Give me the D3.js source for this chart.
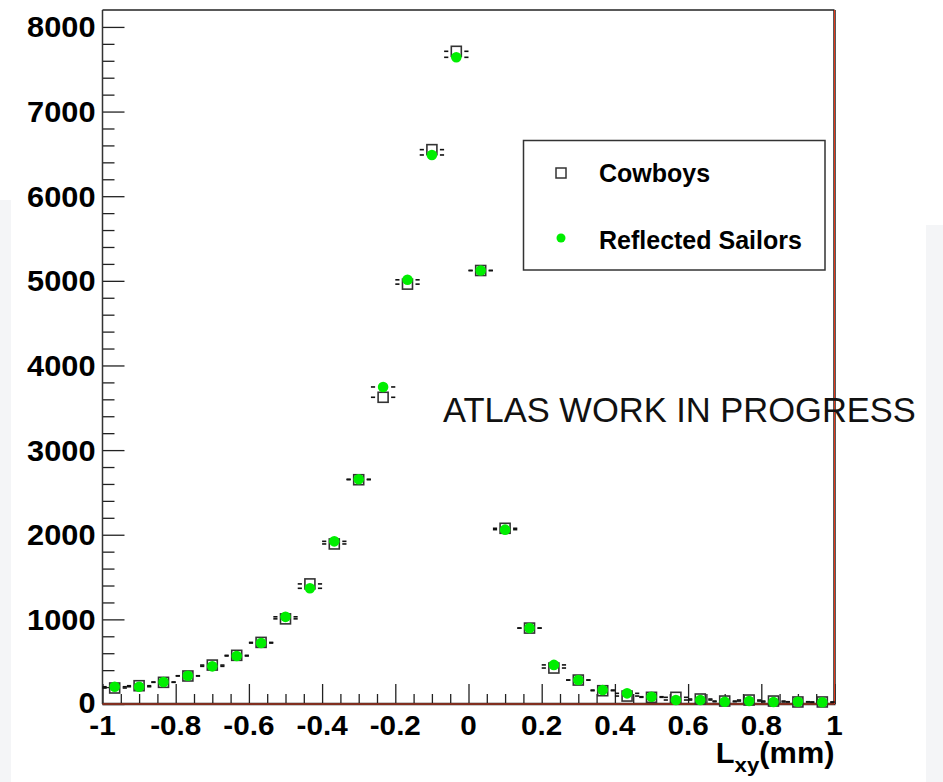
<!DOCTYPE html>
<html>
<head>
<meta charset="utf-8">
<script src="https://cdn.jsdelivr.net/npm/d3@7"></script>
<style>
  html, body { margin: 0; padding: 0; background: #fff; }
  svg { display: block; }
  text { font-family: "Liberation Sans", Arial, Helvetica, sans-serif; }
</style>
</head>
<body>
<div id="chart"></div>
<script>
"use strict";

// bin centres of L_xy (mm), 30 bins over [-1, 1]
const lxyBins = [
   -0.9667, -0.9, -0.8333, -0.7667, -0.7, -0.6333, -0.5667, -0.5, -0.4333, -0.3667,
   -0.3, -0.2333, -0.1667, -0.1, -0.0333, 0.0333, 0.1, 0.1667, 0.2333, 0.3,
   0.3667, 0.4333, 0.5, 0.5667, 0.6333, 0.7, 0.7667, 0.8333, 0.9, 0.9667
];
const binHalfWidth = 0.0333;

const cowboys = [
   189, 216, 256, 331, 460, 575, 728, 1006, 1419, 1891,
   2650, 3624, 4961, 6550, 7712, 5122, 2076, 897, 425, 283,
   157, 94, 79, 79, 59, 35, 47, 35, 24, 24
];
const sailors = [
   204, 204, 260, 334, 445, 567, 720, 1030, 1367, 1922,
   2656, 3746, 5012, 6487, 7641, 5122, 2060, 897, 462, 283,
   165, 126, 86, 47, 47, 27, 35, 24, 27, 20
];

const xTicks = [-1, -0.8, -0.6, -0.4, -0.2, 0, 0.2, 0.4, 0.6, 0.8, 1];
const yTicks = [0, 1000, 2000, 3000, 4000, 5000, 6000, 7000, 8000];
const legendLabels = ["Cowboys", "Reflected Sailors"];

(function () {
   const width = 943, height = 782;
   const pLeft = 102.5, pRight = 834.5, pTop = 10, pBottom = 704;
   const stretch = 1.06; // the original lettering is a little wider than it is tall

   const svg = d3.select("#chart").append("svg")
      .attr("width", width)
      .attr("height", height);

   // faint background bands at the page edges
   svg.append("rect").attr("x", 0).attr("y", 200).attr("width", 11).attr("height", 582).attr("fill", "#f4f5f7");
   svg.append("rect").attr("x", 926).attr("y", 225).attr("width", 17).attr("height", 557).attr("fill", "#f4f5f7");

   const x = d3.scaleLinear().domain([-1, 1]).range([pLeft, pRight]);
   const y = d3.scaleLinear().domain([0, 8200]).range([pBottom, pTop]);

   // y axis: majors every 1000, minors every 200
   const yAxis = d3.axisRight(y)
      .tickValues(d3.range(0, 8001, 200))
      .tickSize(12)
      .tickFormat("");
   svg.append("g")
      .attr("transform", `translate(${pLeft},0)`)
      .call(yAxis)
      .call(g => g.select(".domain").remove())
      .call(g => g.selectAll("line")
         .attr("stroke", "#222")
         .attr("stroke-width", 1.3)
         .attr("x2", d => d % 1000 === 0 ? 22 : 12));

   svg.append("g")
      .selectAll("text")
      .data(yTicks)
      .join("text")
      .attr("transform", d => `translate(${pLeft - 7},${y(d)}) scale(${stretch},1)`)
      .attr("dy", d => d === 0 ? "0.3em" : "0.36em")
      .attr("text-anchor", "end")
      .attr("font-size", 29)
      .attr("font-weight", "bold")
      .text(d => d);

   // x axis: majors every 0.2, minors every 0.05
   const xAxis = d3.axisTop(x)
      .tickValues(d3.range(-1, 1.0001, 0.05))
      .tickSize(10)
      .tickFormat("");
   svg.append("g")
      .attr("transform", `translate(0,${pBottom})`)
      .call(xAxis)
      .call(g => g.select(".domain").remove())
      .call(g => g.selectAll("line")
         .attr("stroke", "#222")
         .attr("stroke-width", 1.3)
         .attr("y2", (d, i) => i % 4 === 0 ? -20 : -10));

   svg.append("g")
      .selectAll("text")
      .data(xTicks)
      .join("text")
      .attr("transform", d => `translate(${x(d)},735) scale(${stretch},1)`)
      .attr("text-anchor", "middle")
      .attr("font-size", 28)
      .attr("font-weight", "bold")
      .text(d => d);

   // frame
   svg.append("line").attr("x1", pLeft).attr("x2", pRight).attr("y1", pTop).attr("y2", pTop)
      .attr("stroke", "#222").attr("stroke-width", 1.5);
   svg.append("line").attr("x1", pLeft).attr("x2", pLeft).attr("y1", pTop).attr("y2", pBottom)
      .attr("stroke", "#333").attr("stroke-width", 1.5);
   svg.append("line").attr("x1", pRight).attr("x2", pRight).attr("y1", pTop).attr("y2", pBottom)
      .attr("stroke", "#222").attr("stroke-width", 2.5);
   svg.append("line").attr("x1", pLeft).attr("x2", pRight + 1).attr("y1", pBottom).attr("y2", pBottom)
      .attr("stroke", "#222").attr("stroke-width", 2.5);
   svg.append("line").attr("x1", pRight).attr("x2", pRight).attr("y1", pTop).attr("y2", pBottom)
      .attr("stroke", "#e03a1c").attr("stroke-width", 1);
   svg.append("line").attr("x1", pLeft).attr("x2", pRight).attr("y1", pBottom).attr("y2", pBottom)
      .attr("stroke", "#e03a1c").attr("stroke-width", 1);

   // horizontal error bars (bin width) with a gap around the marker
   function errorBars(values) {
      const g = svg.append("g").attr("stroke", "#111").attr("stroke-width", 1.6);
      values.forEach((v, i) => {
         const cx = x(lxyBins[i]), cy = y(v);
         const lo = x(lxyBins[i] - binHalfWidth), hi = x(lxyBins[i] + binHalfWidth);
         g.append("line").attr("x1", lo).attr("x2", cx - 8).attr("y1", cy).attr("y2", cy);
         g.append("line").attr("x1", cx + 8).attr("x2", hi).attr("y1", cy).attr("y2", cy);
      });
   }
   errorBars(cowboys);
   errorBars(sailors);

   svg.append("g")
      .selectAll("rect")
      .data(cowboys)
      .join("rect")
      .attr("x", (d, i) => x(lxyBins[i]) - 5)
      .attr("y", d => y(d) - 5)
      .attr("width", 10)
      .attr("height", 10)
      .attr("fill", "none")
      .attr("stroke", "#333")
      .attr("stroke-width", 1.6);

   svg.append("g")
      .selectAll("circle")
      .data(sailors)
      .join("circle")
      .attr("cx", (d, i) => x(lxyBins[i]))
      .attr("cy", d => y(d))
      .attr("r", 5.3)
      .attr("fill", "#00ee00");

   // legend
   const legend = svg.append("g");
   legend.append("rect")
      .attr("x", 523.5).attr("y", 140.5)
      .attr("width", 301.5).attr("height", 129.5)
      .attr("fill", "#fff")
      .attr("stroke", "#333")
      .attr("stroke-width", 1.5);
   legend.append("rect")
      .attr("x", 556).attr("y", 168).attr("width", 10).attr("height", 10)
      .attr("fill", "none").attr("stroke", "#333").attr("stroke-width", 1.5);
   legend.append("circle")
      .attr("cx", 561).attr("cy", 238).attr("r", 4.5).attr("fill", "#00ee00");
   legend.selectAll("text")
      .data(legendLabels)
      .join("text")
      .attr("x", 599)
      .attr("y", (d, i) => i === 0 ? 182 : 249)
      .attr("font-size", 25)
      .attr("font-weight", "bold")
      .text(d => d);

   // annotation
   svg.append("text")
      .attr("x", 443)
      .attr("y", 422)
      .attr("font-size", 34.5)
      .attr("fill", "#111")
      .text("ATLAS WORK IN PROGRESS");

   // axis title L_xy(mm)
   const title = svg.append("text")
      .attr("transform", `translate(${pRight},763) scale(${stretch},1)`)
      .attr("text-anchor", "end")
      .attr("font-size", 29)
      .attr("font-weight", "bold");
   title.append("tspan").text("L");
   title.append("tspan").attr("font-size", 21).attr("dy", 9).text("xy");
   title.append("tspan").attr("dy", -9).text("(mm)");
})();
</script>
</body>
</html>
